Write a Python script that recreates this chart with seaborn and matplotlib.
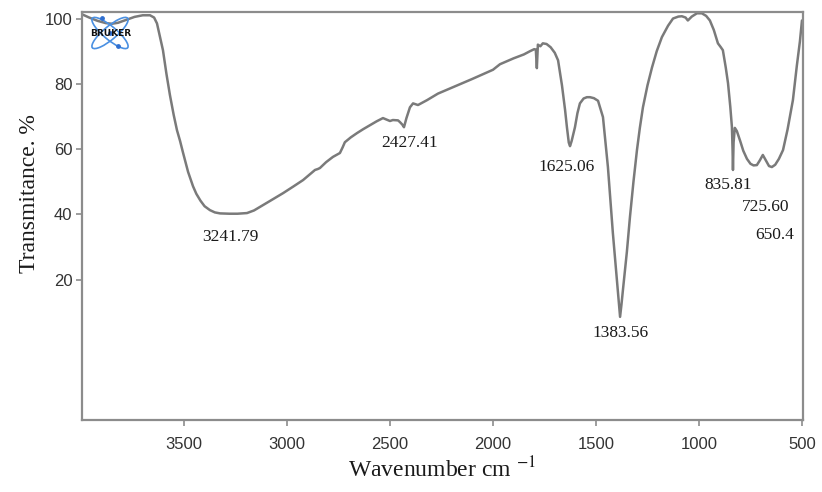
import numpy as np
import pandas as pd
import seaborn as sns
import matplotlib.pyplot as plt
from matplotlib.patches import Ellipse

# FTIR spectrum
wavenumber = [3995, 3960, 3920, 3880, 3850, 3820, 3780, 3740, 3700, 3665,
              3645, 3631, 3602, 3585, 3568, 3550, 3534, 3519, 3505, 3480,
              3456, 3440, 3420, 3400, 3374, 3350, 3325, 3280, 3240, 3194,
              3160, 3131, 3080, 3019, 2970, 2922, 2885, 2864, 2850, 2840,
              2810, 2777, 2743, 2730, 2719, 2690, 2660, 2630, 2597, 2565,
              2534, 2500, 2486, 2461, 2452, 2440, 2432, 2420, 2403, 2388,
              2364, 2340, 2320, 2267, 2200, 2100, 2000, 1966, 1900, 1850,
              1820, 1800, 1792, 1787, 1782, 1770, 1758, 1740, 1720, 1700,
              1684, 1665, 1650, 1641, 1632, 1626, 1618, 1602, 1590, 1578,
              1560, 1544, 1529, 1510, 1490, 1466, 1442, 1418, 1393, 1383,
              1376, 1369, 1350, 1335, 1318, 1301, 1287, 1272, 1250, 1228,
              1205, 1180, 1150, 1126, 1100, 1083, 1065, 1054, 1035, 1010,
              986, 965, 947, 928, 908, 895, 884, 870, 859, 848,
              840, 837, 835, 832, 826, 816, 800, 785, 767, 750,
              735, 719, 705, 690, 675, 660, 646, 630, 612, 592,
              570, 544, 525, 510, 500]
transmittance = [101.3, 100.3, 99.3, 98.6, 98.4, 98.7, 99.6, 100.5, 101.0, 101.0,
                 100.3, 98.5, 90.3, 83.0, 76.5, 70.5, 65.8, 62.5, 59.0, 53.0,
                 48.6, 46.3, 44.2, 42.5, 41.3, 40.6, 40.3, 40.2, 40.2, 40.4,
                 41.2, 42.3, 44.2, 46.5, 48.5, 50.5, 52.5, 53.6, 53.9, 54.2,
                 56.0, 57.6, 58.8, 60.5, 62.1, 63.6, 64.9, 66.1, 67.3, 68.5,
                 69.5, 68.6, 68.9, 68.8, 68.3, 67.5, 66.7, 69.5, 72.8, 74.0,
                 73.5, 74.3, 75.0, 77.0, 78.8, 81.5, 84.3, 86.0, 87.8, 89.0,
                 90.0, 90.6, 90.5, 84.8, 92.0, 91.5, 92.4, 92.2, 91.2, 89.5,
                 87.2, 79.5, 72.0, 66.7, 62.0, 60.9, 62.5, 66.7, 71.0, 74.0,
                 75.5, 75.9, 75.9, 75.6, 74.8, 69.8, 54.5, 34.3, 16.0, 8.6,
                 12.5, 16.9, 28.5, 39.2, 50.0, 59.7, 66.5, 72.8, 79.5, 85.0,
                 90.0, 94.3, 97.8, 100.0, 100.6, 100.7, 100.3, 99.4, 100.6, 101.6,
                 101.6, 100.8, 99.4, 96.5, 92.4, 91.3, 90.3, 85.0, 80.2, 73.0,
                 66.7, 60.0, 53.6, 62.0, 66.5, 65.5, 62.5, 59.5, 57.0, 55.5,
                 55.0, 55.1, 56.5, 58.2, 56.5, 54.8, 54.5, 55.2, 57.0, 59.7,
                 66.0, 75.0, 85.5, 93.0, 99.4]

peak_labels = ['3241.79', '2427.41', '1625.06', '1383.56', '835.81', '725.60', '650.4']

df = pd.DataFrame({'Wavenumber': wavenumber, 'Transmittance': transmittance})

sns.set_style('white')
plt.rcParams['font.family'] = ['Liberation Serif', 'DejaVu Serif']
plt.rcParams['mathtext.fontset'] = 'stix'

fig = plt.figure(figsize=(8.22, 4.92), dpi=100)
ax = fig.add_axes([82 / 822, 1 - 420 / 492, (803 - 82) / 822, (420 - 12) / 492])

sns.lineplot(data=df, x='Wavenumber', y='Transmittance', color='#7a7a7a',
             linewidth=1.8, ax=ax, sort=False)

ax.set_xlim(3995, 495)
ax.set_ylim(-23, 102)
ax.set_xticks([3500, 3000, 2500, 2000, 1500, 1000, 500])
ax.set_yticks([20, 40, 60, 80, 100])

for s in ax.spines.values():
    s.set_color('#8c8c8c')
    s.set_linewidth(1.6)

ax.tick_params(axis='both', which='both', direction='out', length=4, width=1.2,
               color='#8c8c8c', labelcolor='#333333', labelsize=12)
ax.tick_params(axis='x', pad=8, bottom=True, top=False)
ax.tick_params(axis='y', pad=3, left=True, right=False)
for lab in ax.get_xticklabels() + ax.get_yticklabels():
    lab.set_family(['Liberation Sans', 'DejaVu Sans'])

ax.set_xlabel('Wavenumber cm $^{-1}$', fontsize=17, color='#1a1a1a', labelpad=4)
ax.set_ylabel('Transmitance. %', fontsize=17, color='#1a1a1a')
ax.yaxis.set_label_coords(-0.058, 0.556)

# peak annotations (text centres in data units)
label_pos = [(3277, 33.1), (2403, 62.0), (1641, 54.5), (1383, 3.7),
             (859, 49.0), (675, 42.3), (631, 33.7)]
for text, (px, py) in zip(peak_labels, label_pos):
    ax.text(px, py, text, ha='center', va='center', fontsize=12.5, color='#1a1a1a')

# small Bruker logo in the top-left corner
logo = fig.add_axes([80 / 822, 1 - 56 / 492, 62 / 822, 46 / 492])
logo.set_xlim(0, 62)
logo.set_ylim(0, 46)
logo.axis('off')
for ang in (40, -40):
    logo.add_patch(Ellipse((30, 23), 46, 13, angle=ang, fill=False,
                           edgecolor='#4a90e2', linewidth=1.2))
logo.scatter([22, 38, 30], [38, 10, 23], s=6, color='#2f6fd0')
logo.text(31, 23, 'BRUKER', ha='center', va='center', fontsize=6.5,
          fontweight='heavy', family='DejaVu Sans', color='#111111')

plt.savefig('out.png', dpi=100)
plt.close()
